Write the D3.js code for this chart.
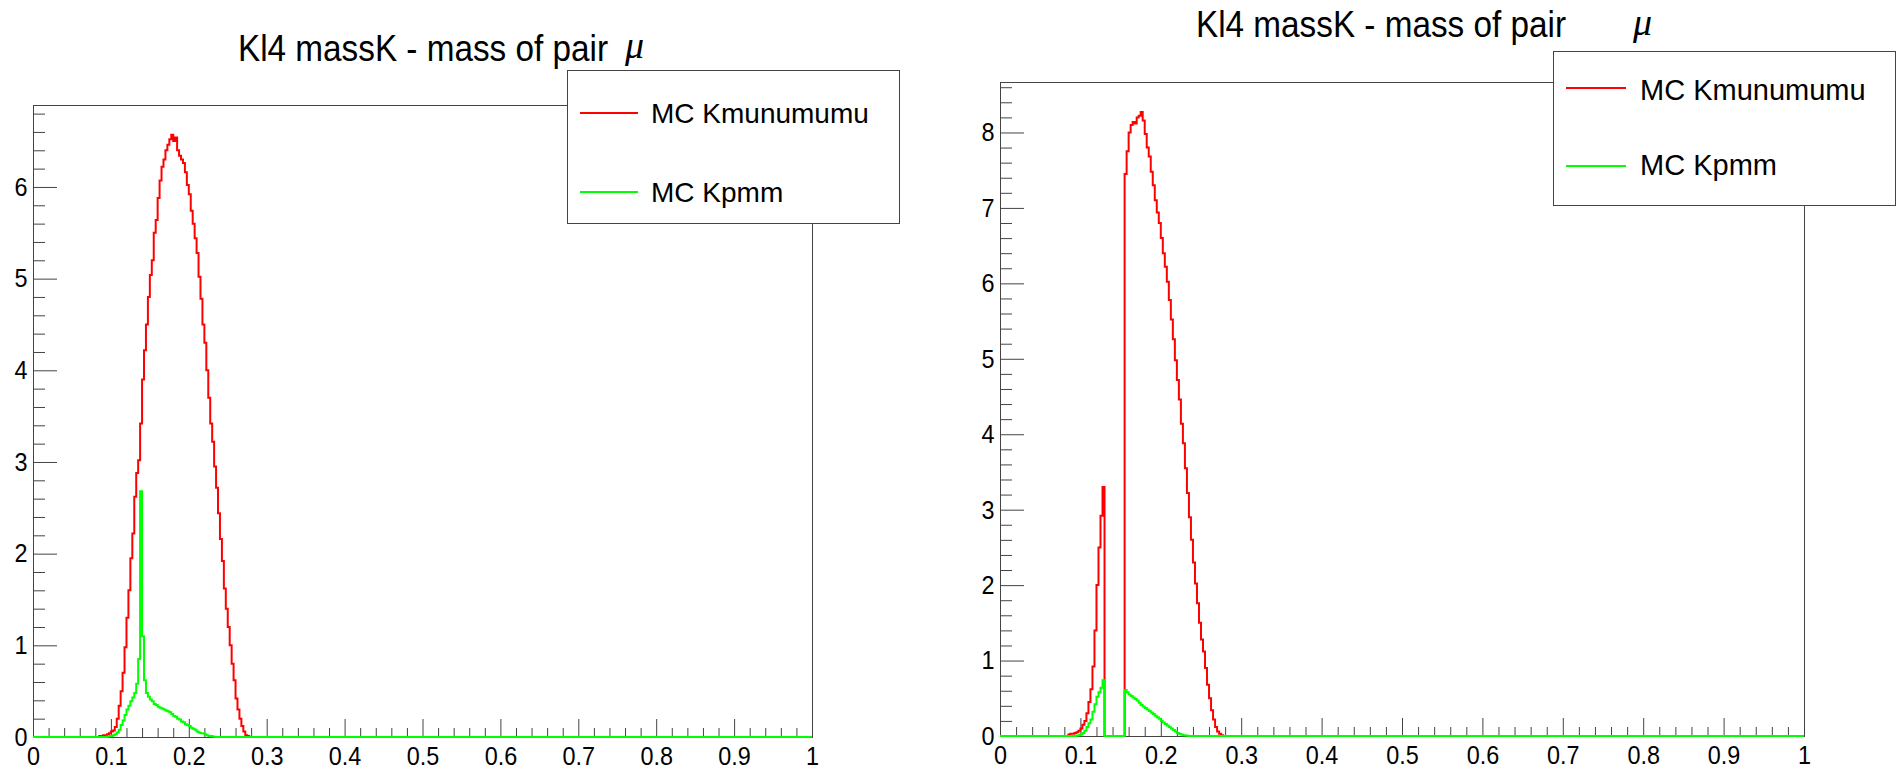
<!DOCTYPE html>
<html>
<head>
<meta charset="utf-8">
<script src="https://cdn.jsdelivr.net/npm/d3@7"></script>
<style>
  body { margin: 0; background: #fff; }
</style>
</head>
<body>
<svg id="chart" width="1904" height="771"></svg>
<script>
// histogram binning (only the non-empty range is listed, everything else is 0)
const binStart = 0.085;
const binWidth = 0.0025;

// left pad
const leftRed = [0.01,0.01,0.02,0.02,0.03,0.04,0.06,0.07,0.11,0.20,
  0.34,0.50,0.70,0.98,1.30,1.60,1.95,2.22,2.62,2.88,
  3.02,3.42,3.90,4.22,4.50,4.80,5.04,5.20,5.50,5.64,
  5.88,6.07,6.22,6.30,6.40,6.46,6.52,6.57,6.50,6.54,
  6.40,6.34,6.30,6.26,6.16,6.02,5.92,5.74,5.60,5.44,
  5.28,5.02,4.78,4.50,4.30,4.00,3.70,3.42,3.22,2.95,
  2.72,2.44,2.16,1.92,1.62,1.40,1.20,1.00,0.80,0.62,
  0.42,0.30,0.20,0.12,0.06,0.02,0.01];
const leftGreen = [0,0,0,0,0.005,0.01,0.01,0.02,0.03,0.05,
  0.08,0.13,0.18,0.24,0.30,0.34,0.39,0.43,0.48,0.58,
  0.85,2.68,1.10,0.62,0.48,0.44,0.41,0.39,0.36,0.35,
  0.33,0.32,0.31,0.30,0.29,0.28,0.27,0.25,0.23,0.22,
  0.20,0.19,0.17,0.16,0.14,0.13,0.12,0.10,0.09,0.08,
  0.06,0.05,0.04,0.04,0.03,0.02,0.01,0.01,0.005,0.003];

// right pad
const rightRed = [0.02,0.03,0.03,0.04,0.05,0.07,0.10,0.15,0.20,0.30,
  0.45,0.62,0.92,1.40,2.00,2.50,2.92,3.30,0,0,
  0,0,0,0,0,0,0,0,7.45,7.75,
  8.00,8.10,8.14,8.12,8.20,8.22,8.27,8.16,7.98,7.80,
  7.68,7.48,7.30,7.10,6.94,6.80,6.60,6.40,6.22,6.02,
  5.78,5.52,5.26,4.98,4.72,4.46,4.14,3.88,3.55,3.22,
  2.90,2.60,2.30,2.02,1.76,1.50,1.28,1.12,0.90,0.68,
  0.50,0.34,0.22,0.12,0.06,0.03,0.01];
const rightGreen = [0,0,0,0,0.005,0.01,0.02,0.04,0.07,0.12,
  0.17,0.22,0.32,0.42,0.52,0.58,0.64,0.74,0,0,
  0,0,0,0,0,0,0,0,0.61,0.58,
  0.55,0.53,0.51,0.49,0.47,0.44,0.41,0.39,0.37,0.35,
  0.33,0.31,0.29,0.27,0.25,0.23,0.20,0.18,0.16,0.14,
  0.12,0.10,0.08,0.06,0.04,0.03,0.02,0.01,0.005,0.002];

const xMajorTicks = [0,0.1,0.2,0.3,0.4,0.5,0.6,0.7,0.8,0.9,1];
const xTickLabels = ["0","0.1","0.2","0.3","0.4","0.5","0.6","0.7","0.8","0.9","1"];
const leftYTicks = [0,1,2,3,4,5,6];
const rightYTicks = [0,1,2,3,4,5,6,7,8];
const legendLabels = ["MC Kmunumumu", "MC Kpmm"];
const titleText = "Kl4 massK - mass of pair";
const titleSymbol = "\u03bc";

const RED = "#ff0000", GREEN = "#00ff00";
const FONT = "'Liberation Sans', Arial, Helvetica, sans-serif";

const svg = d3.select("#chart");
svg.append("rect").attr("width", 1904).attr("height", 771).attr("fill", "#fff");

const panels = [
  { frame: {x0: 33, x1: 812, y0: 105, y1: 737}, yMax: 6.894, yTicks: leftYTicks,
    title: {x: 238, y: 61, mu: 625, muY: 58},
    legend: {x: 567, y: 70, w: 332, h: 153, lineY: [43, 122], textY: [53, 132], lineX: [13, 71], textX: 84, fs: 28},
    red: leftRed, green: leftGreen },
  { frame: {x0: 1000, x1: 1804, y0: 82, y1: 736}, yMax: 8.669, yTicks: rightYTicks,
    title: {x: 1196, y: 37, mu: 1633, muY: 35},
    legend: {x: 1553, y: 51, w: 342, h: 154, lineY: [37, 115], textY: [49, 124], lineX: [13, 73], textX: 87, fs: 29},
    red: rightRed, green: rightGreen }
];

function histPoints(vals) {
  const pts = [[0, 0]];
  vals.forEach((v, i) => pts.push([binStart + i * binWidth, v]));
  pts.push([binStart + vals.length * binWidth, 0]);
  pts.push([1, 0]);
  return pts;
}

function styleAxis(g) {
  g.select(".domain").remove();
  g.selectAll("line").attr("stroke", "#444");
  g.attr("font-family", FONT).attr("font-size", 26);
  g.selectAll("text").attr("fill", "#000");
}

function drawPanel(p) {
  const f = p.frame;
  const x = d3.scaleLinear().domain([0, 1]).range([f.x0, f.x1]);
  const y = d3.scaleLinear().domain([0, p.yMax]).range([f.y1, f.y0]);

  // frame
  svg.append("rect")
    .attr("x", f.x0 + 0.5).attr("y", f.y0 + 0.5)
    .attr("width", f.x1 - f.x0).attr("height", f.y1 - f.y0)
    .attr("fill", "none").attr("stroke", "#444");

  // x axis, minor then major
  const xMinor = d3.range(0, 1.0001, 0.02).filter(v => Math.abs(v * 10 - Math.round(v * 10)) > 1e-6);
  svg.append("g").attr("transform", `translate(0,${f.y1})`)
    .call(d3.axisBottom(x).tickValues(xMinor).tickSize(-9).tickFormat(""))
    .call(styleAxis);
  const xg = svg.append("g").attr("transform", `translate(0,${f.y1})`)
    .call(d3.axisBottom(x).tickValues(xMajorTicks).tickSize(-18).tickPadding(10)
      .tickFormat((d, i) => xTickLabels[i]))
    .call(styleAxis);
  xg.selectAll("text").attr("transform", "scale(0.9,1)");

  // y axis
  const yMinor = d3.range(0, p.yMax, 0.2).filter(v => Math.abs(v - Math.round(v)) > 1e-6);
  svg.append("g").attr("transform", `translate(${f.x0},0)`)
    .call(d3.axisLeft(y).tickValues(yMinor).tickSize(-12).tickFormat(""))
    .call(styleAxis);
  const yg = svg.append("g").attr("transform", `translate(${f.x0},0)`)
    .call(d3.axisLeft(y).tickValues(p.yTicks).tickSize(-24).tickPadding(6).tickFormat(d3.format("d")))
    .call(styleAxis);
  yg.selectAll("text").attr("transform", "scale(0.9,1)");

  // histograms
  const line = d3.line().x(d => x(d[0])).y(d => y(d[1])).curve(d3.curveStepAfter);
  svg.append("path").datum(histPoints(p.red))
    .attr("fill", "none").attr("stroke", RED).attr("stroke-width", 2).attr("d", line);
  svg.append("path").datum(histPoints(p.green))
    .attr("fill", "none").attr("stroke", GREEN).attr("stroke-width", 2).attr("d", line);

  // title
  svg.append("text")
    .attr("transform", `translate(${p.title.x},${p.title.y}) scale(0.9,1)`)
    .attr("font-family", FONT).attr("font-size", 37).attr("fill", "#000")
    .text(titleText);
  svg.append("text")
    .attr("x", p.title.mu).attr("y", p.title.muY)
    .attr("font-family", "'Liberation Serif', 'Times New Roman', serif")
    .attr("font-style", "italic").attr("font-size", 38).attr("fill", "#000")
    .text(titleSymbol);

  // legend
  const L = p.legend;
  const lg = svg.append("g").attr("transform", `translate(${L.x},${L.y})`);
  lg.append("rect").attr("x", 0.5).attr("y", 0.5).attr("width", L.w).attr("height", L.h)
    .attr("fill", "#fff").attr("stroke", "#444");
  [RED, GREEN].forEach((c, i) => {
    lg.append("line").attr("x1", L.lineX[0]).attr("x2", L.lineX[1])
      .attr("y1", L.lineY[i]).attr("y2", L.lineY[i])
      .attr("stroke", c).attr("stroke-width", 2);
    lg.append("text").attr("x", L.textX).attr("y", L.textY[i])
      .attr("font-family", FONT).attr("font-size", L.fs).attr("fill", "#000")
      .text(legendLabels[i]);
  });
}

panels.forEach(drawPanel);
</script>
</body>
</html>
